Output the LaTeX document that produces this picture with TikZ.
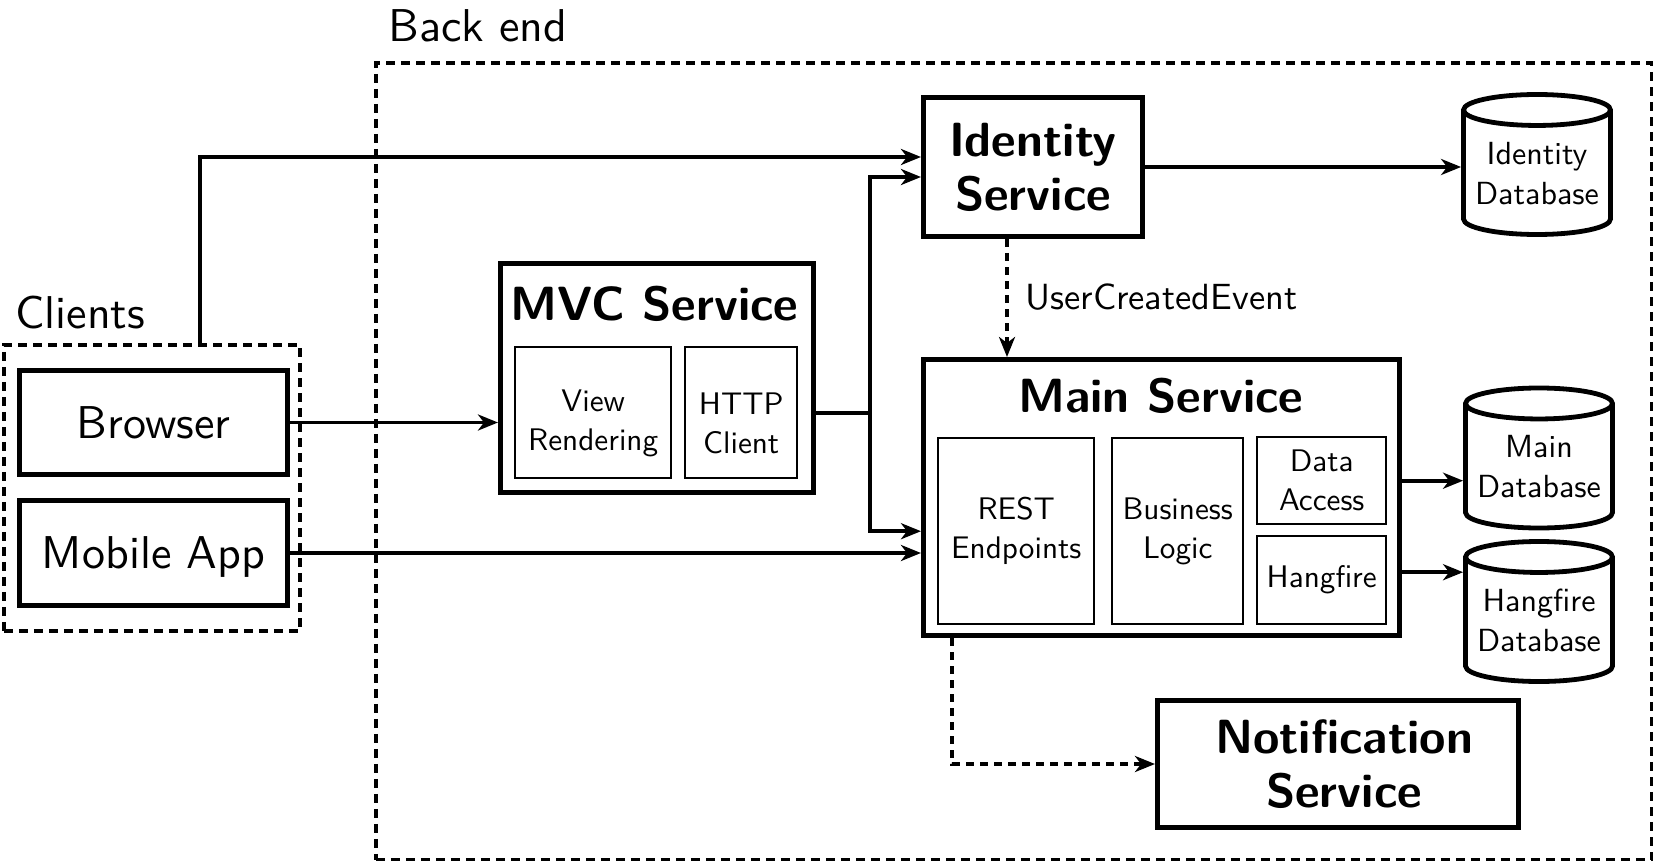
\documentclass[tikz,border=0pt]{standalone}
\usepackage{fontspec}
\setsansfont{lmsans10-regular.otf}[BoldFont=lmsans10-bold.otf]
\usetikzlibrary{arrows.meta,shapes.geometric}
\newcommand{\px}{0.5pt}

\begin{document}
\begin{tikzpicture}[x=\px, y=-\px,
    box/.style={draw, rectangle, anchor=north west, line width=2.5pt, inner sep=0pt, align=center},
    part/.style={draw, rectangle, anchor=north west, line width=1.2pt, inner sep=0pt, align=center, font=\sffamily\fontsize{15.6}{19.5}\selectfont},
    parttext/.style={inner sep=0pt, align=center, font=\sffamily\fontsize{15.6}{19.5}\selectfont},
    group/.style={draw, rectangle, anchor=north west, line width=1.8pt, dash pattern=on 4.5pt off 3pt, inner sep=0pt},
    db/.style={draw, cylinder, shape border rotate=90, aspect=0.25, anchor=shape center, line width=2.4pt, minimum width=147*\px, minimum height=140*\px, inner sep=0pt, align=center, font=\sffamily\fontsize{16}{20}\selectfont},
    client/.style={box, text depth=0pt, font=\sffamily\fontsize{23}{28}\selectfont},
    service/.style={box, font=\sffamily\bfseries\fontsize{24}{27}\selectfont},
    title/.style={anchor=base, inner sep=0pt, font=\sffamily\bfseries\fontsize{24}{27}\selectfont},
    caption/.style={anchor=base west, inner sep=0pt, font=\sffamily\fontsize{23}{28}\selectfont},
    arrow/.style={line width=1.8pt, -{Stealth[length=10pt, width=8pt, inset=3pt]}},
    event/.style={arrow, dash pattern=on 4pt off 3pt}]
    \useasboundingbox (0,0) rectangle (1653,861);

    % Groups
    \node[group, minimum width=1276*\px, minimum height=797*\px] (backend) at (374,61) {};
    \node[caption] (backend-label) at (388,42) {Back end};
    \node[group, minimum width=296*\px, minimum height=286*\px] (clients) at (2,343) {};
    \node[caption] (clients-label) at (15,328) {Clients};

    % Clients
    \node[client, minimum width=268*\px, minimum height=104*\px] (browser) at (17,368) {Browser};
    \node[client, minimum width=268*\px, minimum height=105*\px] (mobile) at (17,498) {Mobile App};

    % MVC service
    \node[box, minimum width=313*\px, minimum height=229*\px] (mvc) at (498,261) {};
    \node[title] (mvc-title) at (654.5,320) {MVC Service};
    \node[part, minimum width=156*\px, minimum height=131*\px] (view) at (514,346) {};
    \node[parttext] (view-text) at ([yshift=-5.5pt]view.center) {View\\Rendering};
    \node[part, minimum width=112*\px, minimum height=131*\px] (http) at (684,346) {};
    \node[parttext] (http-text) at ([yshift=-5.5pt]http.center) {HTTP\\Client};

    % Identity service
    \node[service, minimum width=219*\px, minimum height=139*\px] (identity) at (921,95) {Identity\\Service};
    \node[db] (iddb) at (1537,164.5) {Identity\\Database};

    % Main service
    \node[box, minimum width=476*\px, minimum height=276*\px] (main) at (921,357) {};
    \node[title] (main-title) at (1161,412) {Main Service};
    \node[part, minimum width=156*\px, minimum height=186*\px] (rest) at (937,437) {REST\\Endpoints};
    \node[part, minimum width=131*\px, minimum height=186*\px] (logic) at (1111,437) {Business\\Logic};
    \node[part, minimum width=129*\px, minimum height=87*\px] (data) at (1256,436) {Data\\Access};
    \node[part, minimum width=129*\px, minimum height=88*\px] (hangfire) at (1256,535) {Hangfire};
    \node[db] (maindb) at (1539,458) {Main\\Database};
    \node[db] (hangdb) at (1539,611.5) {Hangfire\\Database};

    % Notification service
    \node[box, minimum width=361*\px, minimum height=127*\px] (notif) at (1155,698) {};
    \node[title, anchor=center, align=center] (notif-text) at ([xshift=3pt]notif.center) {Notification\\Service};

    % Connections
    \coordinate (clients-out) at (200,343);
    \coordinate (split) at ([xshift=27pt]http.east -| mvc.east);
    \coordinate (event-out) at ([xshift=-13pt]identity.south);
    \coordinate (hangfire-out) at ([yshift=4pt]hangfire.east);
    \coordinate (notif-out) at ([xshift=15.5pt]main.south west);
    \draw[arrow] (clients-out) |- ([yshift=5pt]identity.west);
    \draw[arrow] (browser.east) -- (browser.east -| mvc.west);
    \draw[arrow] (mobile.east) -- (mobile.east -| main.west);
    \draw[arrow] (http.east -| mvc.east) -- (split) |- ([yshift=-5pt]identity.west);
    \draw[arrow] (split) |- (rest.west -| main.west);
    \draw[arrow] (identity.east) -- (identity.east -| iddb.west);
    \draw[arrow] (data.east -| main.east) -- (data.east -| maindb.west);
    \draw[arrow] (hangfire-out -| main.east) -- (hangfire-out -| hangdb.west);
    \draw[event] (event-out) -- (event-out |- main.north);
    \node[caption, font=\sffamily\fontsize{18.2}{22}\selectfont] (event-label) at (1025,309) {UserCreatedEvent};
    \draw[event] (notif-out) |- (notif.west);

\end{tikzpicture}
\end{document}
